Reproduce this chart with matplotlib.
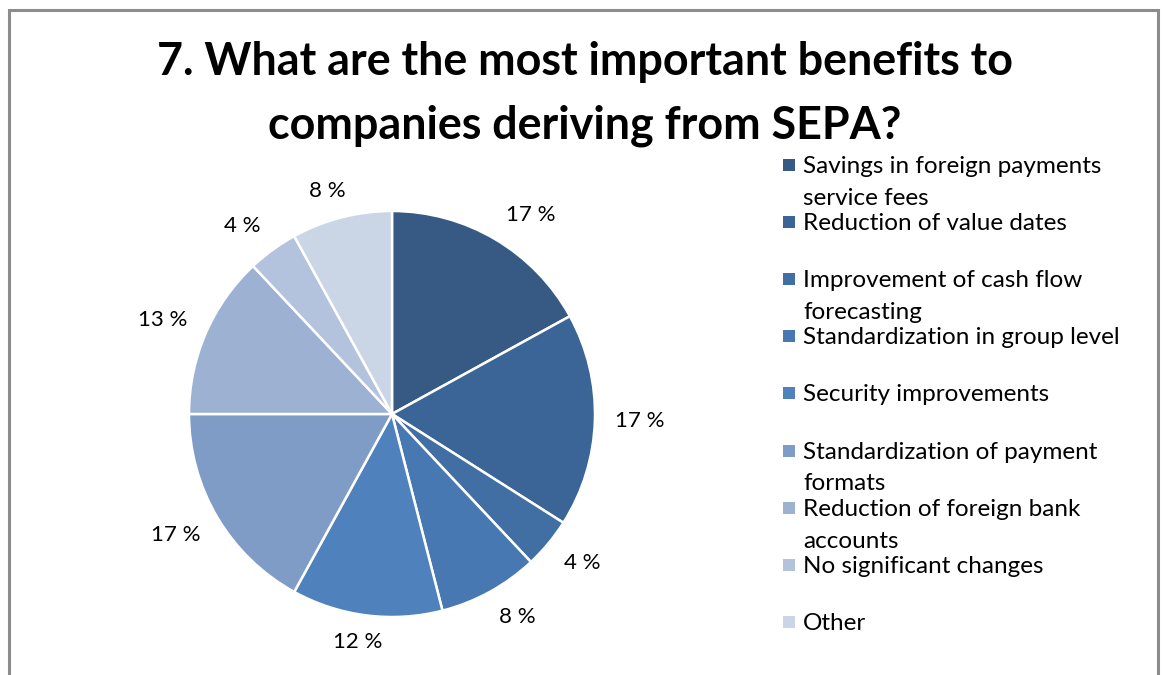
import numpy as np
import matplotlib.pyplot as plt
from matplotlib.patches import Rectangle

# survey answers, clockwise from 12 o'clock
benefits = [
    "Savings in foreign payments\nservice fees",
    "Reduction of value dates",
    "Improvement of cash flow\nforecasting",
    "Standardization in group level",
    "Security improvements",
    "Standardization of payment\nformats",
    "Reduction of foreign bank\naccounts",
    "No significant changes",
    "Other",
]
shares = [17, 17, 4, 8, 12, 17, 13, 4, 8]
colors = ["#375a84", "#3c6597", "#416ea3", "#4878b1", "#4f81bd",
          "#7f9cc7", "#9db1d3", "#b4c3dd", "#cad5e6"]

title = "7. What are the most important benefits to\ncompanies deriving from SEPA?"

W, H = 1163, 675
plt.rcParams['font.family'] = ['Lato', 'DejaVu Sans']

fig = plt.figure(figsize=(W / 100, H / 100), dpi=100)
ax = fig.add_axes([0, 0, 1, 1])
ax.set_xlim(0, W)
ax.set_ylim(0, H)
ax.axis('off')

# chart frame (bottom edge runs off the image)
ax.add_patch(Rectangle((8.5, -20), 1149, H - 9.5 + 20, fill=False,
                       edgecolor="#8c8c8c", linewidth=2.2))

ax.text(585, H - 94, title, ha='center', va='center', fontsize=32.3,
        fontweight='bold', linespacing=1.62, color='black')

cx, cy, R = 392, H - 414, 203
wedges, _, pct = ax.pie(
    shares, colors=colors, startangle=90, counterclock=False,
    center=(cx, cy), radius=R, frame=True,
    autopct=lambda p: f"{p:.0f} %", pctdistance=1.2,
    wedgeprops=dict(edgecolor='white', linewidth=1.8),
    textprops=dict(fontsize=16, color='black'))
ax.set_xlim(0, W)
ax.set_ylim(0, H)
ax.set_aspect('auto')

# "outside end" labels: push each label out until its box clears the rim
renderer = fig.canvas.get_renderer()
gap = 20
for w, t in zip(wedges, pct):
    a = np.radians((w.theta1 + w.theta2) / 2)
    ux, uy = np.cos(a), np.sin(a)
    bb = t.get_window_extent(renderer)
    hw, hh = bb.width / 2, bb.height * 0.36
    t.set_position((cx + (R + gap) * ux + hw * np.clip(2 * ux, -1, 1),
                    cy + (R + gap) * uy + hh * np.clip(2 * uy, -1, 1)))
    t.set_ha('center')
    t.set_va('center')

# legend drawn by hand so every entry gets the same slot height
line_gap = 32
for i, (lab, col) in enumerate(zip(benefits, colors)):
    y = H - 165 - i * 57.1
    nlines = lab.count("\n") + 1
    ax.add_patch(Rectangle((783, y - 6), 12, 12, facecolor=col, edgecolor='none'))
    # baseline alignment uses the last line, so push down for wrapped labels
    ax.text(803, y - 8 - (nlines - 1) * line_gap, lab, ha='left', va='baseline',
            fontsize=17.5, linespacing=1.64, color='black')

fig.savefig("out.png", dpi=100)
